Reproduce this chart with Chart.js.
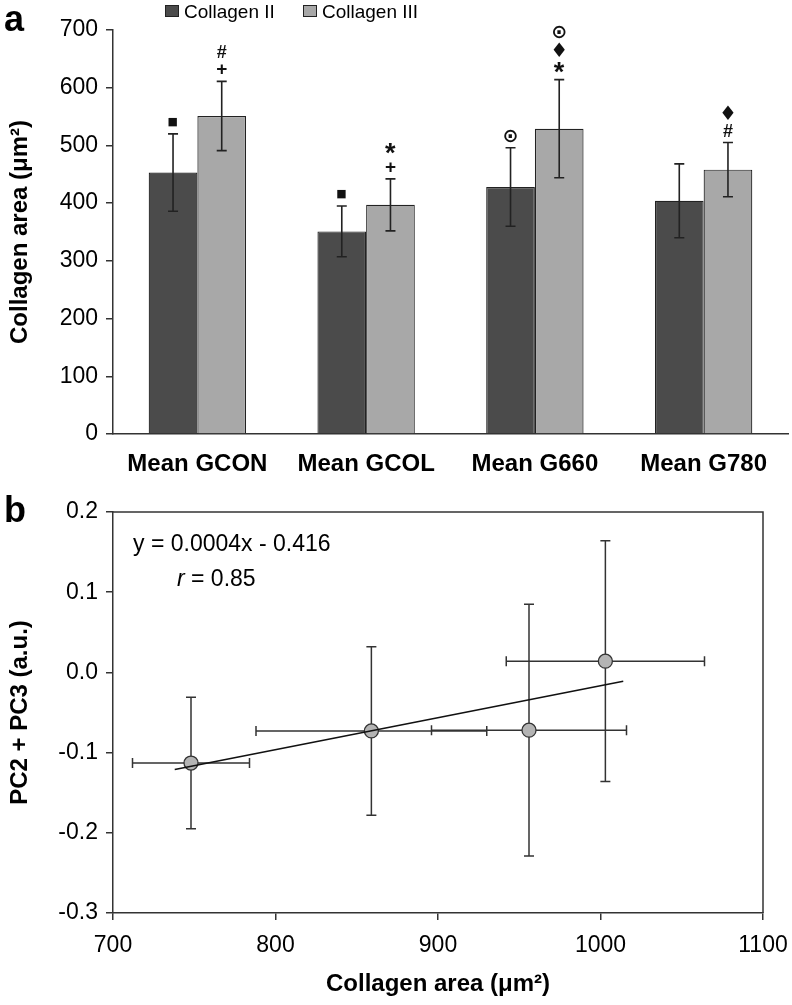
<!DOCTYPE html>
<html><head><meta charset="utf-8">
<script src="https://cdn.jsdelivr.net/npm/chart.js@4.4.1/dist/chart.umd.min.js"></script>
<style>
html,body{margin:0;padding:0;background:#fff;}
#wrap{position:relative;width:792px;height:1005px;overflow:hidden;}
#ca{position:absolute;left:0;top:0;}
#cb{position:absolute;left:0;top:480px;}
</style></head><body>
<div id="wrap"><canvas id="ca" width="792" height="480"></canvas><canvas id="cb" width="792" height="525"></canvas></div>
<script>
// ---- data (panel a) ----
const categories = ['Mean GCON', 'Mean GCOL', 'Mean G660', 'Mean G780'];
const seriesNames = ['Collagen II', 'Collagen III'];
const collagenII = [453, 351, 428, 404];
const collagenIIErr = [67, 44, 68, 64];
const collagenIII = [551, 397, 529, 458];
const collagenIIIErr = [60, 45, 85, 47];
const marksII = [['■'], ['■'], ['⊙'], []];
const marksIII = [['+', '#'], ['+', '*'], ['*', '♦', '⊙'], ['#', '♦']];
// ---- data (panel b) ----
const scatterX = [748, 859, 956, 1003];
const scatterY = [-0.113, -0.073, -0.072, 0.014];
const scatterXErr = [36, 71, 60, 61];
const scatterYErr = [0.082, 0.105, 0.157, 0.150];
const fitX = [738, 1014];
const fitY = [-0.121, -0.011];
const equationText = 'y = 0.0004x - 0.416';
const rLabel = 'r';
const rValueText = ' = 0.85';

const FAM = "'Liberation Sans', Arial, Helvetica, sans-serif";
const SYM = "'DejaVu Sans', sans-serif";

function symFont(s) {
  switch (s) {
    case '■': return '11px ' + SYM;
    case '♦': return '20px ' + SYM;
    case '⊙': return 'bold 19px ' + SYM;
    case '#': return 'bold 18px ' + FAM;
    case '+': return 'bold 19px ' + FAM;
    case '*': return 'bold 27px ' + FAM;
  }
  return '16px ' + FAM;
}
function drawCentered(ctx, s, x, cy) {
  ctx.font = symFont(s);
  ctx.fillStyle = '#111';
  ctx.textAlign = 'left';
  ctx.textBaseline = 'alphabetic';
  const m = ctx.measureText(s);
  const dx = (m.actualBoundingBoxRight - m.actualBoundingBoxLeft) / 2;
  ctx.fillText(s, x - dx, cy + (m.actualBoundingBoxAscent - m.actualBoundingBoxDescent) / 2);
}

const errPluginA = {
  id: 'errA',
  afterDatasetsDraw(chart) {
    const ctx = chart.ctx, y = chart.scales.y;
    chart.data.datasets.forEach((ds, i) => {
      const meta = chart.getDatasetMeta(i);
      meta.data.forEach((bar, j) => {
        const v = ds.data[j], e = ds.errors[j];
        const yt = y.getPixelForValue(v + e), yb = y.getPixelForValue(v - e), x = bar.x;
        ctx.save();
        ctx.strokeStyle = '#222'; ctx.lineWidth = 1.6;
        ctx.beginPath();
        ctx.moveTo(x, yt); ctx.lineTo(x, yb);
        ctx.moveTo(x - 5, yt); ctx.lineTo(x + 5, yt);
        ctx.moveTo(x - 5, yb); ctx.lineTo(x + 5, yb);
        ctx.stroke();
        ds.marks[j].forEach((s, k) => drawCentered(ctx, s, x, yt - 12 - k * 18));
        ctx.restore();
      });
    });
  }
};
const legendA = {
  id: 'legA',
  afterDraw(chart) {
    const ctx = chart.ctx;
    ctx.save();
    ctx.font = '19px ' + FAM; ctx.textBaseline = 'alphabetic'; ctx.textAlign = 'left';
    const pos = [165, 303];
    chart.data.datasets.forEach((ds, i) => {
      const x = pos[i];
      ctx.fillStyle = ds.backgroundColor; ctx.fillRect(x, 5, 14, 12);
      ctx.strokeStyle = '#222'; ctx.lineWidth = 1; ctx.strokeRect(x + 0.5, 5.5, 13, 11);
      ctx.fillStyle = '#000'; ctx.fillText(ds.label, x + 19, 18);
    });
    ctx.font = 'bold 36px ' + FAM; ctx.fillText('a', 4, 31);
    ctx.restore();
  }
};

new Chart(document.getElementById('ca'), {
  type: 'bar',
  data: {
    labels: categories,
    datasets: [
      { label: seriesNames[0], data: collagenII, errors: collagenIIErr, marks: marksII,
        backgroundColor: '#4b4b4b', borderColor: '#222', borderWidth: 1.2 },
      { label: seriesNames[1], data: collagenIII, errors: collagenIIIErr, marks: marksIII,
        backgroundColor: '#a8a8a8', borderColor: '#222', borderWidth: 1.2 }
    ]
  },
  options: {
    responsive: false, animation: false, devicePixelRatio: 1,
    layout: { padding: { top: 30, right: 4, left: 0, bottom: 0 } },
    plugins: { legend: { display: false }, tooltip: { enabled: false } },
    datasets: { bar: { categoryPercentage: 0.577, barPercentage: 1 } },
    scales: {
      x: {
        grid: { display: false },
        border: { display: true, color: '#333', width: 1.5 },
        ticks: { font: { family: FAM, size: 24, weight: 'bold' }, color: '#000', padding: 8, maxRotation: 0 },
        afterFit(s) { s.height = 46; s.paddingLeft = 0; s.paddingRight = 0; }
      },
      y: {
        min: 0, max: 700,
        ticks: { stepSize: 100, font: { family: FAM, size: 23 }, color: '#000', padding: 8 },
        grid: { drawOnChartArea: false, drawTicks: true, tickLength: 7, color: '#333', lineWidth: 1.5 },
        border: { color: '#333', width: 1.5 },
        title: { display: true, text: 'Collagen area (μm²)', font: { family: FAM, size: 24, weight: 'bold' }, color: '#000', padding: { top: 6, bottom: 0 } },
        afterFit(s) { s.width = 113; }
      }
    }
  },
  plugins: [errPluginA, legendA]
});

const errPluginB = {
  id: 'errB',
  beforeDatasetsDraw(chart) {
    const ctx = chart.ctx, xs = chart.scales.x, ys = chart.scales.y;
    const ds = chart.data.datasets[1];
    ctx.save();
    ctx.strokeStyle = '#333'; ctx.lineWidth = 1.5;
    ds.data.forEach((p, j) => {
      const px = xs.getPixelForValue(p.x), py = ys.getPixelForValue(p.y);
      const x0 = xs.getPixelForValue(p.x - ds.xErr[j]), x1 = xs.getPixelForValue(p.x + ds.xErr[j]);
      const y0 = ys.getPixelForValue(p.y + ds.yErr[j]), y1 = ys.getPixelForValue(p.y - ds.yErr[j]);
      ctx.beginPath();
      ctx.moveTo(px, y0); ctx.lineTo(px, y1);
      ctx.moveTo(px - 5, y0); ctx.lineTo(px + 5, y0);
      ctx.moveTo(px - 5, y1); ctx.lineTo(px + 5, y1);
      ctx.moveTo(x0, py); ctx.lineTo(x1, py);
      ctx.moveTo(x0, py - 5); ctx.lineTo(x0, py + 5);
      ctx.moveTo(x1, py - 5); ctx.lineTo(x1, py + 5);
      ctx.stroke();
    });
    ctx.restore();
  },
  afterDraw(chart) {
    const ctx = chart.ctx, a = chart.chartArea;
    ctx.save();
    ctx.strokeStyle = '#333'; ctx.lineWidth = 1.5;
    ctx.beginPath();
    ctx.moveTo(a.left, a.top); ctx.lineTo(a.right, a.top); ctx.lineTo(a.right, a.bottom);
    ctx.stroke();
    ctx.fillStyle = '#000'; ctx.textAlign = 'left'; ctx.textBaseline = 'middle';
    ctx.font = '23px ' + FAM;
    ctx.fillText(equationText, 133, 65);
    ctx.font = 'italic 23px ' + FAM;
    ctx.fillText(rLabel, 177, 100);
    const w = ctx.measureText(rLabel).width;
    ctx.font = '23px ' + FAM;
    ctx.fillText(rValueText, 177 + w, 100);
    ctx.font = 'bold 36px ' + FAM; ctx.textBaseline = 'alphabetic';
    ctx.fillText('b', 4, 42);
    ctx.restore();
  }
};

new Chart(document.getElementById('cb'), {
  type: 'scatter',
  data: {
    datasets: [
      { type: 'line', label: 'fit', data: fitX.map((x, i) => ({ x: x, y: fitY[i] })),
        borderColor: '#111', borderWidth: 1.6, pointRadius: 0, fill: false, tension: 0 },
      { label: 'PC2 + PC3', data: scatterX.map((x, i) => ({ x: x, y: scatterY[i] })),
        xErr: scatterXErr, yErr: scatterYErr,
        pointRadius: 7, pointBackgroundColor: '#b4b4b4', pointBorderColor: '#333', pointBorderWidth: 1.3 }
    ]
  },
  options: {
    responsive: false, animation: false, devicePixelRatio: 1,
    layout: { padding: { top: 32, right: 29, left: 0, bottom: 2 } },
    plugins: { legend: { display: false }, tooltip: { enabled: false } },
    scales: {
      x: {
        type: 'linear', min: 700, max: 1100,
        ticks: { stepSize: 100, font: { family: FAM, size: 23 }, color: '#000', padding: 12,
          callback: (v) => String(Math.round(v)) },
        grid: { drawOnChartArea: false, tickLength: 7, color: '#333', lineWidth: 1.5 },
        border: { color: '#333', width: 1.5 },
        title: { display: true, text: 'Collagen area (μm²)', font: { family: FAM, size: 24, weight: 'bold' }, color: '#000', padding: { top: 0, bottom: 4 } },
        afterFit(s) { s.height = 90; s.paddingLeft = 0; s.paddingRight = 0; }
      },
      y: {
        min: -0.3, max: 0.2,
        ticks: { stepSize: 0.1, font: { family: FAM, size: 23 }, color: '#000', padding: 8,
          callback: (v) => { const r = Math.round(v * 10) / 10; return (Math.abs(r) < 1e-9 ? 0 : r).toFixed(1); } },
        grid: { drawOnChartArea: false, tickLength: 7, color: '#333', lineWidth: 1.5 },
        border: { color: '#333', width: 1.5 },
        title: { display: true, text: 'PC2 + PC3 (a.u.)', font: { family: FAM, size: 24, weight: 'bold' }, color: '#000', padding: { top: 6, bottom: 0 } },
        afterFit(s) { s.width = 113; s.paddingTop = 0; s.paddingBottom = 0; }
      }
    }
  },
  plugins: [errPluginB]
});
</script>
</body></html>
